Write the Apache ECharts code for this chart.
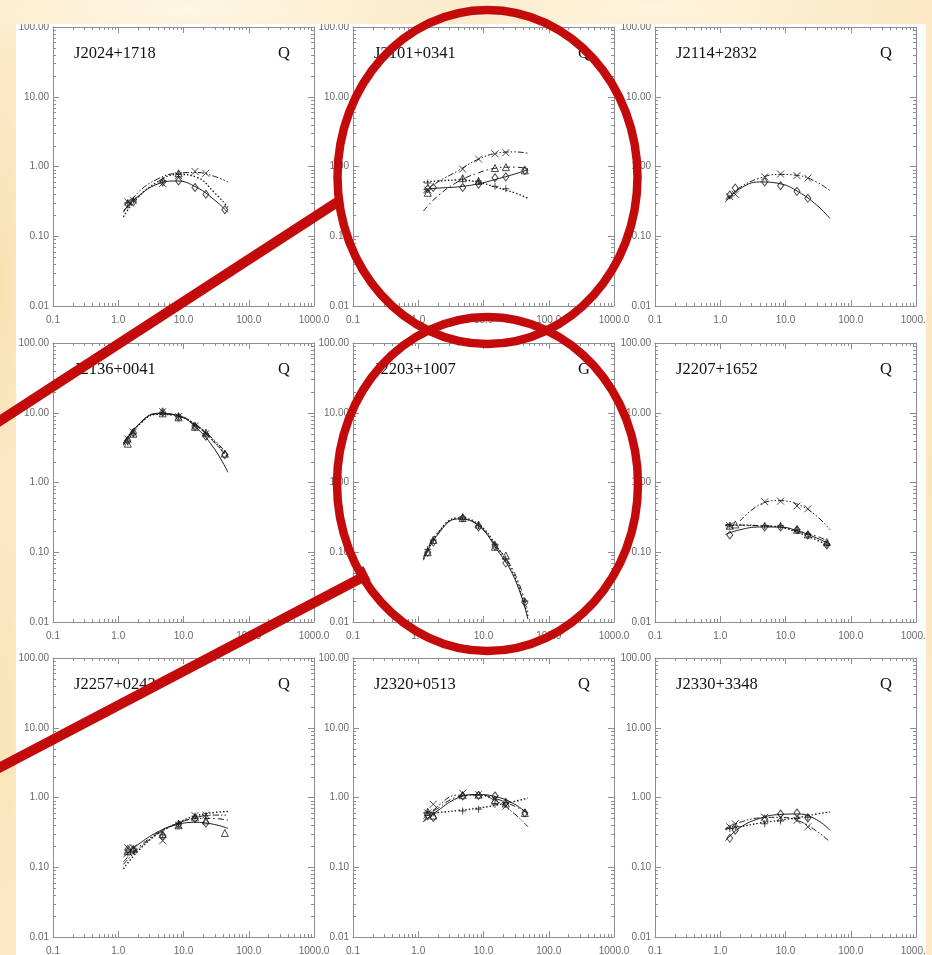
<!DOCTYPE html>
<html>
<head>
<meta charset="utf-8">
<script src="https://cdn.jsdelivr.net/npm/echarts@6/dist/echarts.min.js"></script>
<style>
  html, body { margin: 0; padding: 0; width: 932px; height: 955px; overflow: hidden; }
  body {
    position: relative;
    background:
      radial-gradient(ellipse 300px 60px at 20% 1%, rgba(255, 248, 230, 0.9), rgba(255, 248, 230, 0) 100%),
      radial-gradient(ellipse 260px 50px at 70% 1%, rgba(255, 246, 226, 0.8), rgba(255, 246, 226, 0) 100%),
      radial-gradient(ellipse 40px 200px at 0% 30%, rgba(248, 222, 172, 0.8), rgba(248, 222, 172, 0) 100%),
      radial-gradient(ellipse 40px 220px at 0% 75%, rgba(250, 226, 180, 0.8), rgba(250, 226, 180, 0) 100%),
      radial-gradient(ellipse 30px 240px at 100% 50%, rgba(250, 228, 184, 0.8), rgba(250, 228, 184, 0) 100%),
      #fbe9c6;
  }
  #plots { position: absolute; left: 16px; top: 24px; width: 910px; height: 931px; background: #ffffff; overflow: hidden; }
  #chart { position: absolute; left: 0; top: 0; width: 910px; height: 931px; }
  #marks { position: absolute; left: 0; top: 0; width: 932px; height: 955px; pointer-events: none; }
</style>
</head>
<body>
<div id="plots"><div id="chart"></div></div>
<div id="marks"></div>
<script>
// Observing frequencies (GHz) of the measured flux densities
const FREQ = [1.4, 1.7, 4.8, 8.4, 15, 22, 43];
// Frequencies (GHz) at which each fitted spectrum is sampled
const FIT_FREQ = [1.2, 2, 4, 8, 16, 30, 48];

const SOURCES = ['J2024+1718', 'J2101+0341', 'J2114+2832',
                 'J2136+0041', 'J2203+1007', 'J2207+1652',
                 'J2257+0243', 'J2320+0513', 'J2330+3348'];
const CLASSES = ['Q', 'Q', 'Q', 'Q', 'G', 'Q', 'Q', 'Q', 'Q'];

// Flux density (Jy) per epoch, rows: diamond, plus, triangle, cross epochs
const J2024_1718_FLUX = [
  [0.29, 0.31, 0.60, 0.62, 0.50, 0.40, 0.24],
  [0.30, 0.33, 0.62, 0.78, null, null, null],
  [null, null, null, 0.80, null, null, null],
  [0.31, 0.33, 0.57, 0.74, 0.85, 0.80, null]
];
const J2024_1718_FIT = [
  [0.23, 0.37, 0.56, 0.62, 0.50, 0.33, 0.22],
  [0.19, 0.36, 0.60, 0.77, 0.70, 0.42, 0.26],
  null,
  [0.22, 0.42, 0.66, 0.80, 0.82, 0.72, 0.60]
];

const J2101_0341_FLUX = [
  [0.48, 0.50, 0.50, 0.56, 0.69, 0.71, 0.88],
  [0.58, null, 0.66, 0.62, 0.52, 0.48, null],
  [0.42, null, 0.68, 0.62, 0.95, 0.98, 0.88],
  [0.46, null, 0.92, 1.28, 1.52, 1.58, null]
];
const J2101_0341_FIT = [
  [0.47, 0.49, 0.51, 0.56, 0.66, 0.78, 0.90],
  [0.60, 0.62, 0.64, 0.60, 0.50, 0.42, 0.35],
  [0.23, 0.38, 0.60, 0.80, 0.95, 0.98, 0.93],
  [0.42, 0.60, 0.86, 1.25, 1.55, 1.62, 1.55]
];

const J2114_2832_FLUX = [
  [0.39, 0.49, 0.60, 0.53, 0.44, 0.35, null],
  null,
  null,
  [0.37, 0.40, 0.71, 0.78, 0.74, 0.68, null]
];
const J2114_2832_FIT = [
  [0.31, 0.48, 0.60, 0.57, 0.43, 0.28, 0.18],
  null,
  null,
  [0.34, 0.50, 0.68, 0.77, 0.74, 0.60, 0.45]
];

const J2136_0041_FLUX = [
  [4.0, 5.2, 10.2, 8.7, 6.3, 4.6, 2.5],
  [3.8, 5.0, 10.0, 8.9, 6.6, 5.0, null],
  [3.6, 5.0, 9.8, 8.6, 6.3, 5.2, 2.6],
  [4.2, 5.3, 10.4, 8.8, 6.5, 5.0, null]
];
const J2136_0041_FIT = [
  [3.5, 6.6, 9.8, 9.2, 6.0, 3.0, 1.4],
  [3.6, 6.5, 9.5, 9.0, 6.5, 3.8, 2.3],
  [3.7, 6.7, 9.6, 9.0, 6.4, 3.7, 2.2],
  [3.4, 6.6, 9.8, 9.2, 6.6, 4.0, 2.5]
];

const J2203_1007_FLUX = [
  [0.10, 0.14, 0.31, 0.23, 0.123, 0.07, 0.019],
  [0.11, 0.15, 0.32, 0.24, 0.13, 0.08, 0.02],
  [0.10, 0.15, 0.31, 0.25, 0.12, 0.09, null],
  null
];
const J2203_1007_FIT = [
  [0.077, 0.18, 0.30, 0.25, 0.11, 0.042, 0.011],
  [0.08, 0.19, 0.31, 0.26, 0.12, 0.045, 0.012],
  [0.085, 0.19, 0.30, 0.25, 0.12, 0.05, 0.014],
  null
];

const J2207_1652_FLUX = [
  [0.177, null, 0.23, 0.23, 0.21, 0.177, 0.127],
  [0.24, null, 0.24, 0.24, 0.21, 0.18, 0.13],
  [0.24, 0.25, null, null, 0.21, 0.18, 0.14],
  [0.24, null, 0.53, 0.54, 0.46, 0.42, null]
];
const J2207_1652_FIT = [
  [0.18, 0.21, 0.23, 0.23, 0.20, 0.16, 0.13],
  [0.24, 0.245, 0.24, 0.23, 0.19, 0.15, 0.12],
  [0.25, 0.245, 0.24, 0.23, 0.20, 0.17, 0.14],
  [null, 0.28, 0.48, 0.55, 0.48, 0.33, 0.21]
];

const J2257_0243_FLUX = [
  [0.18, 0.18, 0.28, 0.41, 0.50, 0.43, null],
  [0.16, 0.17, 0.29, 0.42, 0.54, 0.55, null],
  [0.17, 0.18, 0.30, 0.40, 0.52, 0.47, 0.31],
  [0.19, 0.19, 0.24, 0.40, 0.55, 0.56, null]
];
const J2257_0243_FIT = [
  [0.14, 0.21, 0.32, 0.41, 0.44, 0.41, 0.36],
  [0.095, 0.17, 0.30, 0.43, 0.55, 0.61, 0.63],
  [0.12, 0.19, 0.31, 0.42, 0.50, 0.50, 0.47],
  [0.11, 0.18, 0.30, 0.42, 0.52, 0.56, 0.56]
];

const J2320_0513_FLUX = [
  [0.55, 0.52, 1.05, 1.07, 1.05, 0.85, 0.60],
  [0.62, 0.60, 0.64, 0.68, 0.80, 0.85, null],
  [0.62, 0.55, 1.08, 1.10, 0.92, 0.82, 0.60],
  [0.60, 0.80, 1.15, 1.10, 0.95, 0.75, null]
];
const J2320_0513_FIT = [
  [0.45, 0.65, 0.98, 1.10, 1.02, 0.80, 0.58],
  [0.60, 0.61, 0.65, 0.70, 0.78, 0.88, 0.98],
  [0.50, 0.70, 1.02, 1.10, 0.95, 0.75, 0.60],
  [0.45, 0.75, 1.08, 1.08, 0.88, 0.58, 0.38]
];

const J2330_3348_FLUX = [
  [0.26, 0.34, 0.49, 0.58, 0.60, 0.51, null],
  [0.36, 0.38, 0.42, 0.46, 0.50, 0.52, null],
  null,
  [0.38, 0.42, 0.52, 0.52, 0.47, 0.38, null]
];
const J2330_3348_FIT = [
  [0.24, 0.37, 0.50, 0.57, 0.58, 0.48, 0.34],
  [0.35, 0.38, 0.43, 0.47, 0.52, 0.58, 0.62],
  null,
  [0.36, 0.44, 0.51, 0.52, 0.46, 0.33, 0.23]
];

const FLUX = [J2024_1718_FLUX, J2101_0341_FLUX, J2114_2832_FLUX,
              J2136_0041_FLUX, J2203_1007_FLUX, J2207_1652_FLUX,
              J2257_0243_FLUX, J2320_0513_FLUX, J2330_3348_FLUX];
const FIT = [J2024_1718_FIT, J2101_0341_FIT, J2114_2832_FIT,
             J2136_0041_FIT, J2203_1007_FIT, J2207_1652_FIT,
             J2257_0243_FIT, J2320_0513_FIT, J2330_3348_FIT];

// Axis tick labels
const X_TICKS = ['0.1', '1.0', '10.0', '100.0', '1000.0'];
const Y_TICKS = ['0.01', '0.10', '1.00', '10.00', '100.00'];

// ---- styling -------------------------------------------------------------
const AXIS_GRAY = '#8e8e8e';
const LABEL_GRAY = '#6a6a6a';
const INK = '#1e1e1e';
const RED = '#c30b0b';
const EPOCH_SYMBOL = [
  'diamond',
  'path://M5,0L5,10M0,5L10,5',
  'triangle',
  'path://M0,0L10,10M10,0L0,10'
];
const EPOCH_SYMBOL_SIZE = [[6, 8], 7, 7, 7];
const EPOCH_LINE = ['solid', [1.5, 2], [6, 3, 1.5, 3], [6, 2, 1.5, 2, 1.5, 2]];
const EPOCH_LINE_WIDTH = [1, 1.4, 1, 1];

// panel layout inside the white sheet
const COL_X = [37, 337, 639];
const ROW_Y = [3, 319, 634];
const PANEL_W = 261;
const PANEL_H = 279;

function xAxis(g, pos, labels) {
  return {
    type: 'log', logBase: 10, gridIndex: g, position: pos,
    min: 0.1, max: 1000, splitNumber: 4,
    axisLine: { show: true, onZero: false, lineStyle: { color: AXIS_GRAY, width: 1 } },
    axisTick: { show: true, inside: true, length: 6, lineStyle: { color: AXIS_GRAY, width: 1 } },
    minorTick: { show: false }, splitLine: { show: false }, minorSplitLine: { show: false },
    axisLabel: labels ? {
      show: true, margin: 9, color: LABEL_GRAY, fontSize: 10,
      fontFamily: 'Liberation Sans, Arial, sans-serif',
      showMinLabel: true, showMaxLabel: true, hideOverlap: false,
      formatter: v => X_TICKS[Math.round(Math.log10(v)) + 1]
    } : { show: false }
  };
}
function yAxis(g, pos, labels) {
  return {
    type: 'log', logBase: 10, gridIndex: g, position: pos,
    min: 0.01, max: 100, splitNumber: 4,
    axisLine: { show: true, onZero: false, lineStyle: { color: AXIS_GRAY, width: 1 } },
    axisTick: { show: true, inside: true, length: 6, lineStyle: { color: AXIS_GRAY, width: 1 } },
    minorTick: { show: false }, splitLine: { show: false }, minorSplitLine: { show: false },
    axisLabel: labels ? {
      show: true, margin: 4, color: LABEL_GRAY, fontSize: 10,
      fontFamily: 'Liberation Sans, Arial, sans-serif',
      showMinLabel: true, showMaxLabel: true, hideOverlap: false,
      formatter: v => Y_TICKS[Math.round(Math.log10(v)) + 2]
    } : { show: false }
  };
}

// minor log ticks (2..9 of every decade) on all four frame edges
const MINOR_X = [], MINOR_Y = [];
for (let e = -1; e <= 2; e++) for (let m = 2; m <= 9; m++) MINOR_X.push(m * Math.pow(10, e));
for (let e = -2; e <= 1; e++) for (let m = 2; m <= 9; m++) MINOR_Y.push(m * Math.pow(10, e));
const MINOR_DATA = MINOR_X.map(v => [v, 1, 0]).concat(MINOR_Y.map(v => [1, v, 1]));

function minorTicks(params, api) {
  const cs = params.coordSys;
  const L = 3;
  const st = { stroke: AXIS_GRAY, lineWidth: 1 };
  if (api.value(2) === 0) {
    const px = Math.round(api.coord([api.value(0), 1])[0]) + 0.5;
    return { type: 'group', children: [
      { type: 'line', shape: { x1: px, y1: cs.y + cs.height, x2: px, y2: cs.y + cs.height - L }, style: st },
      { type: 'line', shape: { x1: px, y1: cs.y, x2: px, y2: cs.y + L }, style: st }
    ] };
  }
  const py = Math.round(api.coord([1, api.value(1)])[1]) + 0.5;
  return { type: 'group', children: [
    { type: 'line', shape: { x1: cs.x, y1: py, x2: cs.x + L, y2: py }, style: st },
    { type: 'line', shape: { x1: cs.x + cs.width, y1: py, x2: cs.x + cs.width - L, y2: py }, style: st }
  ] };
}

const grids = [], xAxes = [], yAxes = [], series = [], texts = [];
for (let i = 0; i < SOURCES.length; i++) {
  const left = COL_X[i % 3], top = ROW_Y[Math.floor(i / 3)];
  grids.push({ left: left, top: top, width: PANEL_W, height: PANEL_H,
               containLabel: false, outerBoundsMode: 'none', show: false });
  xAxes.push(xAxis(i, 'bottom', true), xAxis(i, 'top', false));
  yAxes.push(yAxis(i, 'left', true), yAxis(i, 'right', false));

  series.push({
    type: 'custom', xAxisIndex: 2 * i, yAxisIndex: 2 * i, silent: true, clip: false,
    encode: { x: 0, y: 1 }, data: MINOR_DATA, renderItem: minorTicks, z: 1
  });

  for (let k = 0; k < 4; k++) {
    const fit = FIT[i][k];
    if (fit) {
      const pts = [];
      FIT_FREQ.forEach((f, j) => { if (fit[j] != null) pts.push([f, fit[j]]); });
      series.push({
        type: 'line', xAxisIndex: 2 * i, yAxisIndex: 2 * i, data: pts,
        smooth: 0.45, showSymbol: false, symbol: 'none', silent: true, z: 2,
        lineStyle: { color: INK, width: EPOCH_LINE_WIDTH[k], type: EPOCH_LINE[k] }
      });
    }
    const flux = FLUX[i][k];
    if (flux) {
      const pts = [];
      FREQ.forEach((f, j) => { if (flux[j] != null) pts.push([f, flux[j]]); });
      series.push({
        type: 'scatter', xAxisIndex: 2 * i, yAxisIndex: 2 * i, data: pts,
        symbol: EPOCH_SYMBOL[k], symbolSize: EPOCH_SYMBOL_SIZE[k], silent: true, z: 3,
        itemStyle: { color: 'rgba(255,255,255,0)', borderColor: INK, borderWidth: 1 }
      });
    }
  }

  texts.push({
    type: 'text', x: left + 21, y: top + 27, silent: true, z: 10,
    style: { text: SOURCES[i], fill: '#111', font: '16.5px "Liberation Serif", "Times New Roman", serif',
             align: 'left', verticalAlign: 'middle' }
  });
  texts.push({
    type: 'text', x: left + 231, y: top + 27, silent: true, z: 10,
    style: { text: CLASSES[i], fill: '#111', font: '16.5px "Liberation Serif", "Times New Roman", serif',
             align: 'center', verticalAlign: 'middle' }
  });
}

const chart = echarts.init(document.getElementById('chart'), null, { renderer: 'canvas' });
chart.setOption({
  animation: false,
  backgroundColor: '#ffffff',
  grid: grids,
  xAxis: xAxes,
  yAxis: yAxes,
  series: series,
  graphic: texts
});

// red annotation rings and pointers drawn over the sheet
const marks = echarts.init(document.getElementById('marks'), null, { renderer: 'canvas' });
marks.setOption({
  animation: false,
  backgroundColor: 'transparent',
  graphic: [
    { type: 'line', shape: { x1: -5, y1: 424, x2: 339, y2: 201 }, style: { stroke: RED, lineWidth: 10 } },
    { type: 'line', shape: { x1: -5, y1: 770, x2: 363, y2: 577 }, style: { stroke: RED, lineWidth: 10 } },
    { type: 'line', shape: { x1: 360, y1: 568, x2: 367, y2: 582 }, style: { stroke: RED, lineWidth: 8 } },
    { type: 'ellipse', shape: { cx: 487.5, cy: 177, rx: 150, ry: 167 },
      style: { fill: 'none', stroke: RED, lineWidth: 8.5 } },
    { type: 'ellipse', shape: { cx: 487.5, cy: 484, rx: 150.5, ry: 167 },
      style: { fill: 'none', stroke: RED, lineWidth: 8.5 } }
  ]
});
</script>
</body>
</html>
